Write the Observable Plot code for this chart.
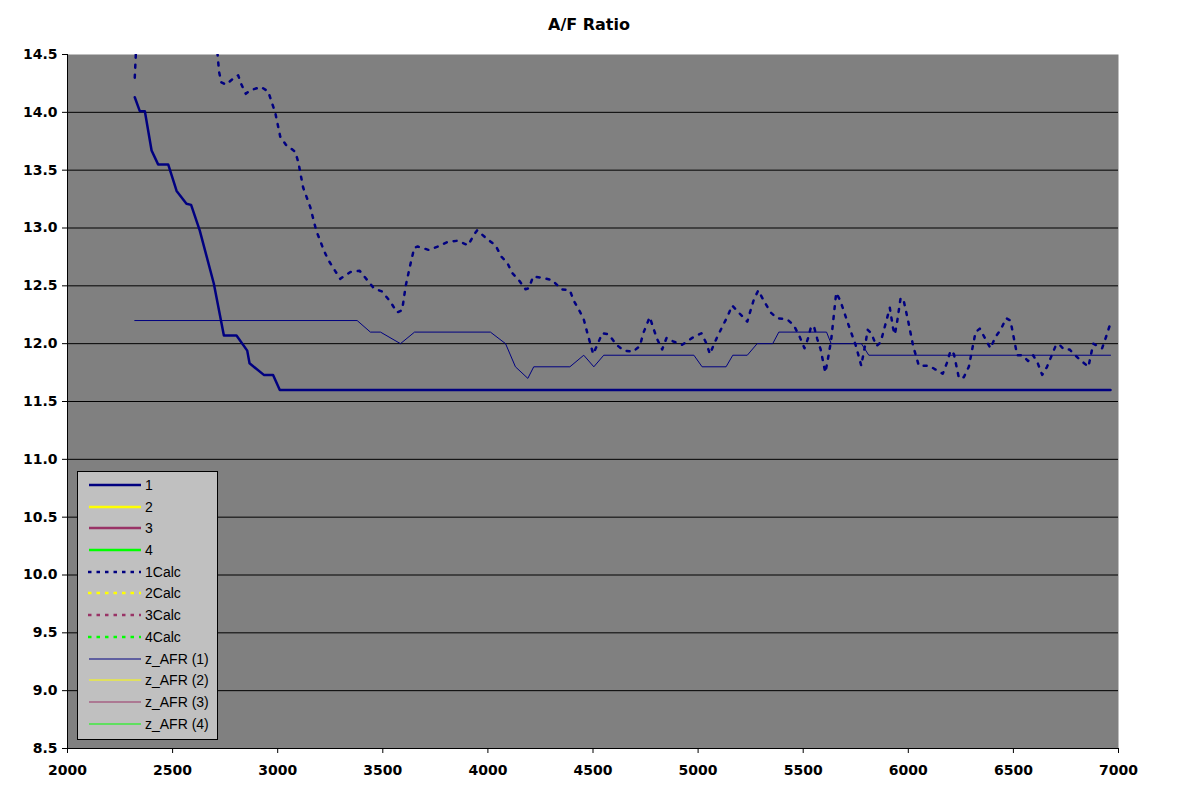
<!DOCTYPE html>
<html>
<head>
<meta charset="utf-8">
<script src="https://cdn.jsdelivr.net/npm/d3@7"></script>
<script src="https://cdn.jsdelivr.net/npm/@observablehq/plot@0.6"></script>
<style>
  html, body { margin: 0; padding: 0; background: #ffffff; }
  body { position: relative; width: 1178px; height: 807px; overflow: hidden; }
  #title { height: 40px; line-height: 50px; text-align: center; font-family: "DejaVu Sans", sans-serif; font-weight: bold; font-size: 16px; color: #000; }
  #legend { position: absolute; left: 77px; top: 471px; width: 139px; height: 265px; background: #c0c0c0; border: 1px solid #000; padding-top: 2px; box-sizing: content-box; }
  .row { display: flex; align-items: center; height: 21.73px; font-family: "Liberation Sans", Arial, sans-serif; font-size: 14px; color: #000; }
  .row svg { flex: none; }
</style>
</head>
<body>
<div id="title">A/F Ratio</div>
<div id="chart"></div>
<div id="legend"></div>
<script>
// ---- data ----
const xTicks = [2000, 2500, 3000, 3500, 4000, 4500, 5000, 5500, 6000, 6500, 7000];
const yTicks = [8.5, 9.0, 9.5, 10.0, 10.5, 11.0, 11.5, 12.0, 12.5, 13.0, 13.5, 14.0, 14.5];
const gridY = [9.0, 9.5, 10.0, 10.5, 11.0, 11.5, 12.0, 12.5, 13.0, 13.5, 14.0];

// series "1" (measured AFR)
const rpm1 = [2320, 2344, 2368, 2400, 2431, 2479, 2519, 2566, 2588, 2629, 2696, 2744, 2804, 2855, 2866, 2934, 2978, 3010, 6962];
const afr1 = [14.13, 14.01, 14.01, 13.67, 13.55, 13.55, 13.32, 13.21, 13.2, 12.98, 12.52, 12.07, 12.07, 11.94, 11.83, 11.73, 11.73, 11.6, 11.6];

// series "1Calc"
const rpm1Calc = [2320, 2335, 2700, 2721, 2732, 2753, 2801, 2812, 2825, 2848, 2869, 2920, 2955, 2971, 2988, 3012, 3039, 3083, 3098, 3121, 3155, 3183, 3221, 3242, 3273, 3297, 3346, 3390, 3426, 3457, 3497, 3537, 3568, 3592, 3609, 3633, 3650, 3666, 3719, 3762, 3809, 3857, 3906, 3933, 3949, 3993, 4036, 4065, 4092, 4116, 4147, 4179, 4195, 4215, 4258, 4306, 4349, 4390, 4409, 4437, 4456, 4472, 4501, 4523, 4544, 4575, 4612, 4647, 4689, 4723, 4739, 4770, 4786, 4805, 4829, 4850, 4881, 4924, 4972, 5016, 5040, 5056, 5072, 5094, 5119, 5141, 5162, 5198, 5234, 5250, 5265, 5286, 5313, 5345, 5376, 5424, 5455, 5483, 5506, 5522, 5538, 5551, 5567, 5583, 5605, 5614, 5633, 5657, 5677, 5712, 5751, 5776, 5797, 5807, 5824, 5848, 5868, 5896, 5912, 5928, 5936, 5947, 5963, 5976, 6000, 6023, 6050, 6098, 6145, 6164, 6185, 6201, 6217, 6241, 6264, 6288, 6320, 6340, 6367, 6391, 6415, 6439, 6466, 6486, 6518, 6542, 6570, 6594, 6616, 6637, 6660, 6703, 6720, 6740, 6767, 6811, 6857, 6880, 6922, 6941, 6957];
const afr1Calc = [14.3, 14.9, 14.8, 14.35, 14.26, 14.24, 14.31, 14.32, 14.25, 14.16, 14.19, 14.22, 14.18, 14.09, 14.0, 13.79, 13.72, 13.66, 13.57, 13.35, 13.18, 12.98, 12.8, 12.72, 12.63, 12.56, 12.62, 12.63, 12.55, 12.48, 12.45, 12.36, 12.27, 12.29, 12.5, 12.7, 12.83, 12.84, 12.81, 12.84, 12.88, 12.89, 12.85, 12.94, 12.98, 12.91, 12.85, 12.75, 12.7, 12.61, 12.55, 12.47, 12.48, 12.58, 12.57, 12.55, 12.47, 12.46, 12.37, 12.28, 12.21, 12.1, 11.91, 12.0, 12.09, 12.08, 11.99, 11.94, 11.93, 11.98, 12.09, 12.23, 12.14, 12.04, 11.95, 12.05, 12.02, 11.99, 12.05, 12.09, 12.0, 11.91, 11.98, 12.07, 12.16, 12.24, 12.33, 12.26, 12.19, 12.29, 12.38, 12.46, 12.37, 12.27, 12.22, 12.21, 12.16, 12.06, 11.96, 12.04, 12.15, 12.15, 12.04, 11.95, 11.75, 11.83, 12.03, 12.44, 12.37, 12.18, 11.98, 11.81, 12.01, 12.12, 12.09, 11.98, 12.01, 12.2, 12.31, 12.13, 12.08, 12.19, 12.39, 12.39, 12.19, 11.98, 11.81, 11.81, 11.76, 11.74, 11.84, 11.94, 11.91, 11.7, 11.71, 11.8, 12.1, 12.13, 12.04, 11.96, 12.06, 12.12, 12.22, 12.2, 11.9, 11.9, 11.85, 11.9, 11.83, 11.73, 11.8, 11.99, 11.99, 11.95, 11.95, 11.87, 11.8, 12.0, 11.96, 12.06, 12.15];

// series "z_AFR (1)" (target AFR)
const rpmZ1 = [2320, 3378, 3441, 3489, 3584, 3651, 4012, 4084, 4131, 4190, 4218, 4390, 4456, 4504, 4551, 4980, 5019, 5133, 5165, 5234, 5281, 5355, 5384, 5611, 5633, 5777, 5812, 6962];
const afrZ1 = [12.2, 12.2, 12.1, 12.1, 12.0, 12.1, 12.1, 12.0, 11.8, 11.7, 11.8, 11.8, 11.9, 11.8, 11.9, 11.9, 11.8, 11.8, 11.9, 11.9, 12.0, 12.0, 12.1, 12.1, 12.0, 12.0, 11.9, 11.9];

// legend
const legendNames = ["1", "2", "3", "4", "1Calc", "2Calc", "3Calc", "4Calc", "z_AFR (1)", "z_AFR (2)", "z_AFR (3)", "z_AFR (4)"];
const legendColors = ["#000080", "#ffff00", "#993366", "#00ff00", "#000080", "#ffff00", "#993366", "#00ff00", "#000080", "#ffff00", "#993366", "#00ff00"];
const legendKinds = ["thick", "thick", "thick", "thick", "dash", "dash", "dash", "dash", "thin", "thin", "thin", "thin"];

// ---- build ----
const s1 = rpm1.map((r, i) => ({rpm: r, afr: afr1[i]}));
const sCalc = rpm1Calc.map((r, i) => ({rpm: r, afr: afr1Calc[i]}));
const sZ = rpmZ1.map((r, i) => ({rpm: r, afr: afrZ1[i]}));

const tickFont = {fontFamily: "DejaVu Sans, sans-serif", fontWeight: "bold", fontSize: 14};

const chart = Plot.plot({
  width: 1178,
  height: 767,
  marginTop: 14,
  marginBottom: 59,
  marginLeft: 67,
  marginRight: 60,
  style: {background: "#ffffff", color: "#000000", overflow: "visible"},
  x: {domain: [2000, 7000]},
  y: {domain: [8.5, 14.5]},
  marks: [
    Plot.frame({fill: "#808080", stroke: "none"}),
    Plot.ruleY(gridY, {stroke: "#000000", strokeWidth: 1}),
    Plot.line(sZ, {x: "rpm", y: "afr", stroke: "#000080", strokeWidth: 1, clip: true}),
    Plot.line(sCalc, {x: "rpm", y: "afr", stroke: "#000080", strokeWidth: 2.5, strokeDasharray: "3,7", clip: true}),
    Plot.line(s1, {x: "rpm", y: "afr", stroke: "#000080", strokeWidth: 2.5, clip: true}),
    Plot.ruleX([2000], {stroke: "#000000"}),
    Plot.ruleY([8.5], {stroke: "#000000"}),
    Plot.axisX({ticks: xTicks, tickSize: 5, tickPadding: 12, tickFormat: d3.format("d"), label: null, ...tickFont}),
    Plot.axisY({ticks: yTicks, tickSize: 5, tickPadding: 5, tickFormat: d3.format(".1f"), label: null, ...tickFont})
  ]
});
document.getElementById("chart").appendChild(chart);

// legend (HTML overlay)
const legend = document.getElementById("legend");
legendNames.forEach((name, i) => {
  const row = document.createElement("div");
  row.className = "row";
  const ns = "http://www.w3.org/2000/svg";
  const svg = document.createElementNS(ns, "svg");
  svg.setAttribute("width", 67);
  svg.setAttribute("height", 22);
  const ln = document.createElementNS(ns, "line");
  ln.setAttribute("x1", legendKinds[i] === "dash" ? 10 : 11);
  ln.setAttribute("x2", 63);
  ln.setAttribute("y1", 11);
  ln.setAttribute("y2", 11);
  ln.setAttribute("stroke", legendColors[i]);
  ln.setAttribute("stroke-width", legendKinds[i] === "thin" ? 1 : 2.5);
  if (legendKinds[i] === "dash") ln.setAttribute("stroke-dasharray", "3.5,5");
  svg.appendChild(ln);
  const label = document.createElement("span");
  label.textContent = name;
  row.appendChild(svg);
  row.appendChild(label);
  legend.appendChild(row);
});
</script>
</body>
</html>
